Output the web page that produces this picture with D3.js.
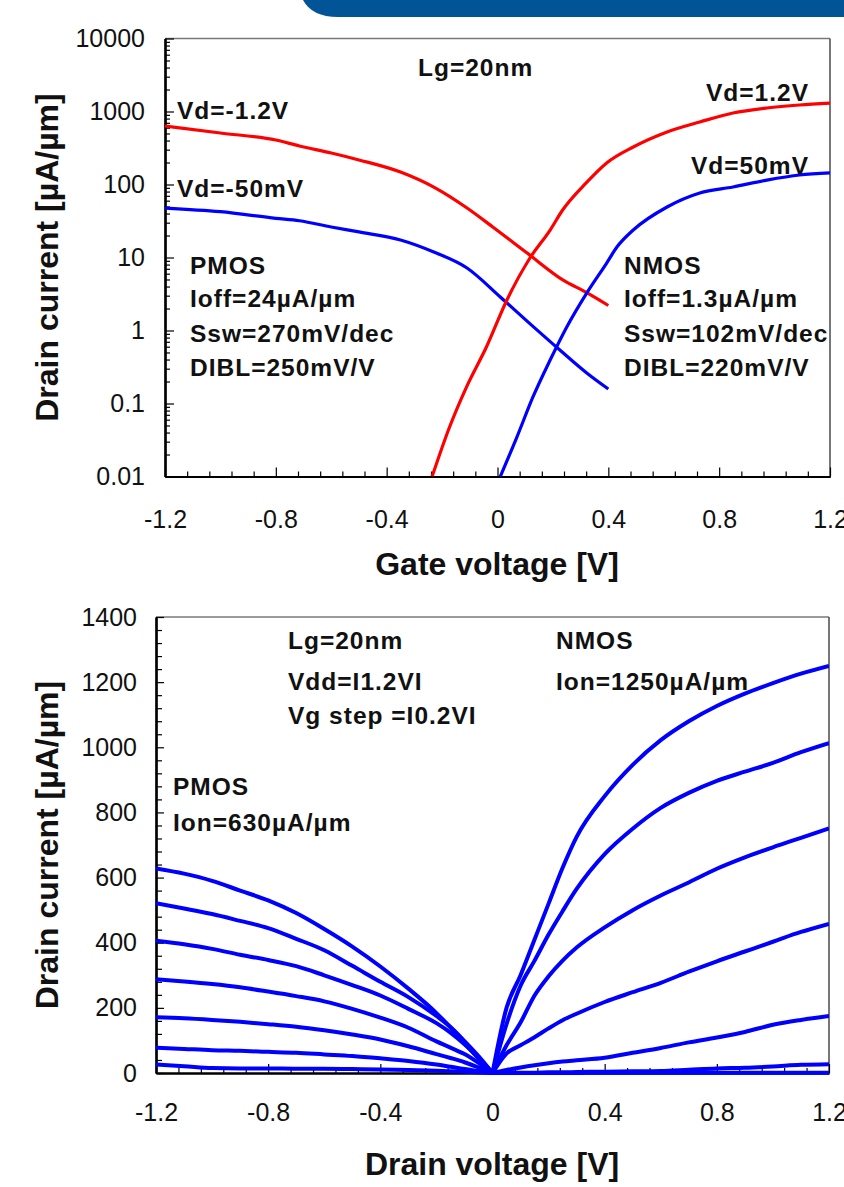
<!DOCTYPE html>
<html><head><meta charset="utf-8">
<script src="https://cdn.jsdelivr.net/npm/d3@7"></script>
<style>
html,body{margin:0;padding:0;background:#fff;}
svg{display:block;font-family:Arial,"Liberation Sans",sans-serif;}
</style></head>
<body>
<svg id="c" width="844" height="1187"></svg>
<script>
// ---------- DATA: transfer characteristics (top, log scale) ----------
const pmosVd12_Vg = [-1.2,-1.0,-0.8,-0.715,-0.6,-0.5,-0.35,-0.23,-0.11,-0.016,0.107,0.237,0.322,0.4];
const pmosVd12_Id = [633,507,407,337,270,217,148,92,47.6,26,11.5,4.9,3.3,2.2];
const pmosVd005_Vg = [-1.2,-1.0,-0.8,-0.715,-0.6,-0.5,-0.35,-0.23,-0.11,0.01,0.13,0.225,0.322,0.4];
const pmosVd005_Id = [47.6,42.4,34.4,31.9,26.2,22.4,17.4,11.9,7.18,2.88,1.12,0.54,0.262,0.158];
const nmosVd12_Vg = [-0.236,-0.173,-0.112,-0.04,0.034,0.117,0.19,0.235,0.32,0.394,0.49,0.612,0.73,0.85,0.972,1.09,1.2];
const nmosVd12_Id = [0.01,0.0477,0.168,0.594,2.62,9.84,23.8,44.7,105,197,326,524,718,953,1117,1228,1300];
const nmosVd005_Vg = [0.01,0.07,0.128,0.19,0.25,0.322,0.394,0.431,0.49,0.612,0.73,0.85,0.972,1.09,1.2];
const nmosVd005_Id = [0.01,0.0347,0.123,0.394,1.12,3.26,8.4,13.9,23.8,49.2,76.5,92.5,115,135,144];
const topYTicks = [0.01,0.1,1,10,100,1000,10000];
const topYTickLabels = ["0.01","0.1","1","10","100","1000","10000"];
const xTicks = [-1.2,-0.8,-0.4,0,0.4,0.8,1.2];
const xTickLabels = ["-1.2","-0.8","-0.4","0","0.4","0.8","1.2"];

// ---------- DATA: output characteristics (bottom, linear) ----------
const pmosVd = [-1.2,-1.1,-1.0,-0.9,-0.8,-0.7,-0.6,-0.5,-0.4,-0.3,-0.2,-0.15,-0.1,-0.05,0];
const pmosId_Vg12 = [628,612,590,560,530,491,442,388,327,259,184,140,92,45,0];
const pmosId_Vg10 = [521,505,488,467,445,412,377,329,280,233,175,141,98,52,0];
const pmosId_Vg08 = [406,395,381,363,347,328,300,270,238,197,153,124,88,46,0];
const pmosId_Vg06 = [288,281,273,263,250,236,220,197,170,139,97,78,58,31,0];
const pmosId_Vg04 = [171,168,163,157,150,142,131,118,103,82,58,46,33,17,0];
const pmosId_Vg02 = [78,74,70,68,65,62,57,52,45,37,26,19,12,6,0];
const pmosId_Vg00 = [26,21,15,14,14,13,13,12,11,9,7,5,4,2,0];
const nmosVd = [0,0.05,0.1,0.15,0.2,0.25,0.3,0.4,0.5,0.6,0.7,0.8,0.9,1.0,1.1,1.2];
const nmosId_Vg12 = [0,200,300,410,520,630,725,850,946,1022,1080,1127,1165,1197,1226,1250];
const nmosId_Vg10 = [0,150,268,345,425,497,565,672,750,814,860,897,925,952,985,1013];
const nmosId_Vg08 = [0,85,155,238,297,345,385,447,500,545,585,627,662,693,722,751];
const nmosId_Vg06 = [0,60,85,110,137,162,182,218,248,277,311,343,373,403,433,458];
const nmosId_Vg04 = [0,9,17,24,30,35,39,47,62,77,94,109,126,148,163,175];
const nmosId_Vg02 = [0,1,1,1,2,2,3,4,5,6,10,14,16,20,25,27];
const nmosId_Vg00 = [0,0,0,0,0,0,0,1,1,1,1,1,1,1,1,1];
const botYTicks = [0,200,400,600,800,1000,1200,1400];
const botYTickLabels = ["0","200","400","600","800","1000","1200","1400"];

const svg = d3.select("#c");
const FONT = "Arial,'Liberation Sans',sans-serif";

// header band (top right)
svg.append("path")
  .attr("d","M303,0 L844,0 L844,17 L338,17 Q312,17 303,0 Z")
  .attr("fill","#015596");

function frame(g, x0, x1, y0, y1){
  g.append("line").attr("x1",x0).attr("x2",x1).attr("y1",y0).attr("y2",y0)
    .attr("stroke","#7a7a7a").attr("stroke-width",1.5);
  g.append("line").attr("x1",x1).attr("x2",x1).attr("y1",y0).attr("y2",y1)
    .attr("stroke","#4a4a4a").attr("stroke-width",1.5);
}
function styleAxis(g){
  g.select(".domain").attr("stroke","#000").attr("stroke-width",2.2);
  g.selectAll(".tick line").attr("stroke","#000").attr("stroke-width",1.2);
  g.selectAll("text").attr("font-size",25).attr("fill","#111").attr("font-family",FONT);
}
function annot(g,t,xx,yy,anchor){
  return g.append("text").text(t).attr("x",xx).attr("y",yy)
    .attr("font-size",24.5).attr("font-weight","bold").attr("letter-spacing","1px")
    .attr("fill","#111").attr("text-anchor",anchor||"start");
}
function title(t,xx,yy,rot){
  return svg.append("text").text(t)
    .attr("transform",`translate(${xx},${yy})`+(rot?" rotate(-90)":""))
    .attr("text-anchor","middle").attr("font-size",32).attr("font-weight","bold").attr("fill","#111");
}

// ============ TOP CHART ============
{
  const L=165,R=830,T=38.5,B=476.5;
  const x = d3.scaleLinear().domain([-1.2,1.2]).range([L,R]);
  const y = d3.scaleLog().domain([0.01,10000]).range([B,T]);
  const g = svg.append("g");
  frame(g,L,R,T,B);
  const minorY=[];
  for(let e=-2;e<4;e++) for(let k=2;k<10;k++) minorY.push(k*Math.pow(10,e));
  g.append("g").attr("transform",`translate(${L},0)`)
    .call(d3.axisLeft(y).tickValues(minorY).tickSize(-5).tickFormat("").tickSizeOuter(0))
    .call(styleAxis);
  const minorX=d3.range(0,31).map(i=>-1.2+i*0.08).filter((v,i)=>i%5!==0);
  g.append("g").attr("transform",`translate(0,${B})`)
    .call(d3.axisBottom(x).tickValues(minorX).tickSize(-5).tickFormat("").tickSizeOuter(0))
    .call(styleAxis);
  g.append("g").attr("transform",`translate(${L},0)`)
    .call(d3.axisLeft(y).tickValues(topYTicks).tickSize(-9).tickSizeOuter(0).tickPadding(20)
      .tickFormat((d,i)=>topYTickLabels[i]))
    .call(styleAxis);
  g.append("g").attr("transform",`translate(0,${B})`)
    .call(d3.axisBottom(x).tickValues(xTicks).tickSize(-9).tickSizeOuter(0).tickPadding(34)
      .tickFormat((d,i)=>xTickLabels[i]))
    .call(styleAxis);

  svg.append("clipPath").attr("id","clipT").append("rect")
    .attr("x",L).attr("y",T).attr("width",R-L).attr("height",B-T);
  const line = d3.line().x(d=>x(d[0])).y(d=>y(d[1])).curve(d3.curveMonotoneX);
  const series = [
    [pmosVd12_Vg,pmosVd12_Id,"#ff0000"],
    [pmosVd005_Vg,pmosVd005_Id,"#0000ff"],
    [nmosVd12_Vg,nmosVd12_Id,"#ff0000"],
    [nmosVd005_Vg,nmosVd005_Id,"#0000ff"]
  ];
  const lg = g.append("g").attr("clip-path","url(#clipT)");
  series.forEach(([xs,ys,c])=>{
    lg.append("path").datum(xs.map((v,i)=>[v,ys[i]]))
      .attr("d",line).attr("fill","none").attr("stroke",c).attr("stroke-width",3.2)
      .attr("stroke-linejoin","round");
  });
  annot(g,"Lg=20nm",418,76);
  annot(g,"Vd=-1.2V",177,119);
  annot(g,"Vd=-50mV",177,197);
  annot(g,"Vd=1.2V",809,101,"end");
  annot(g,"Vd=50mV",809,174,"end");
  annot(g,"PMOS",190,274); annot(g,"Ioff=24µA/µm",190,307); annot(g,"Ssw=270mV/dec",190,342); annot(g,"DIBL=250mV/V",190,376);
  annot(g,"NMOS",624,274); annot(g,"Ioff=1.3µA/µm",624,307); annot(g,"Ssw=102mV/dec",624,342); annot(g,"DIBL=220mV/V",624,376);
  title("Gate voltage [V]",497,575,false);
  title("Drain current [µA/µm]",58,(T+B)/2,true);
}

// ============ BOTTOM CHART ============
{
  const L=156,R=829,T=617,B=1073;
  const x = d3.scaleLinear().domain([-1.2,1.2]).range([L,R]);
  const y = d3.scaleLinear().domain([0,1400]).range([B,T]);
  const g = svg.append("g");
  frame(g,L,R,T,B);
  const minorY=d3.range(0,36).map(i=>i*40).filter(v=>v%200!==0);
  g.append("g").attr("transform",`translate(${L},0)`)
    .call(d3.axisLeft(y).tickValues(minorY).tickSize(-6).tickFormat("").tickSizeOuter(0))
    .call(styleAxis);
  const minorX=d3.range(0,31).map(i=>-1.2+i*0.08).filter((v,i)=>i%5!==0);
  g.append("g").attr("transform",`translate(0,${B})`)
    .call(d3.axisBottom(x).tickValues(minorX).tickSize(-5).tickFormat("").tickSizeOuter(0))
    .call(styleAxis);
  g.append("g").attr("transform",`translate(${L},0)`)
    .call(d3.axisLeft(y).tickValues(botYTicks).tickSize(-8).tickSizeOuter(0).tickPadding(19)
      .tickFormat((d,i)=>botYTickLabels[i]))
    .call(styleAxis);
  g.append("g").attr("transform",`translate(0,${B})`)
    .call(d3.axisBottom(x).tickValues(xTicks).tickSize(-9).tickSizeOuter(0).tickPadding(30)
      .tickFormat((d,i)=>xTickLabels[i]))
    .call(styleAxis);

  svg.append("clipPath").attr("id","clipB").append("rect")
    .attr("x",L).attr("y",T).attr("width",R-L).attr("height",B-T+3);
  const line = d3.line().x(d=>x(d[0])).y(d=>y(d[1])).curve(d3.curveMonotoneX);
  const lg = g.append("g").attr("clip-path","url(#clipB)");
  [pmosId_Vg12,pmosId_Vg10,pmosId_Vg08,pmosId_Vg06,pmosId_Vg04,pmosId_Vg02,pmosId_Vg00].forEach(ids=>{
    lg.append("path").datum(pmosVd.map((v,i)=>[v,ids[i]]))
      .attr("d",line).attr("fill","none").attr("stroke","#0000ff").attr("stroke-width",4)
      .attr("stroke-linejoin","round");
  });
  [nmosId_Vg12,nmosId_Vg10,nmosId_Vg08,nmosId_Vg06,nmosId_Vg04,nmosId_Vg02,nmosId_Vg00].forEach(ids=>{
    lg.append("path").datum(nmosVd.map((v,i)=>[v,ids[i]]))
      .attr("d",line).attr("fill","none").attr("stroke","#0000ff").attr("stroke-width",4)
      .attr("stroke-linejoin","round");
  });
  annot(g,"Lg=20nm",288,649); annot(g,"Vdd=I1.2VI",288,690); annot(g,"Vg step =I0.2VI",288,724);
  annot(g,"NMOS",556,649); annot(g,"Ion=1250µA/µm",556,690);
  annot(g,"PMOS",173,795); annot(g,"Ion=630µA/µm",173,831);
  title("Drain voltage [V]",492,1175,false);
  title("Drain current [µA/µm]",58,(T+B)/2,true);
}
</script>
</body></html>
